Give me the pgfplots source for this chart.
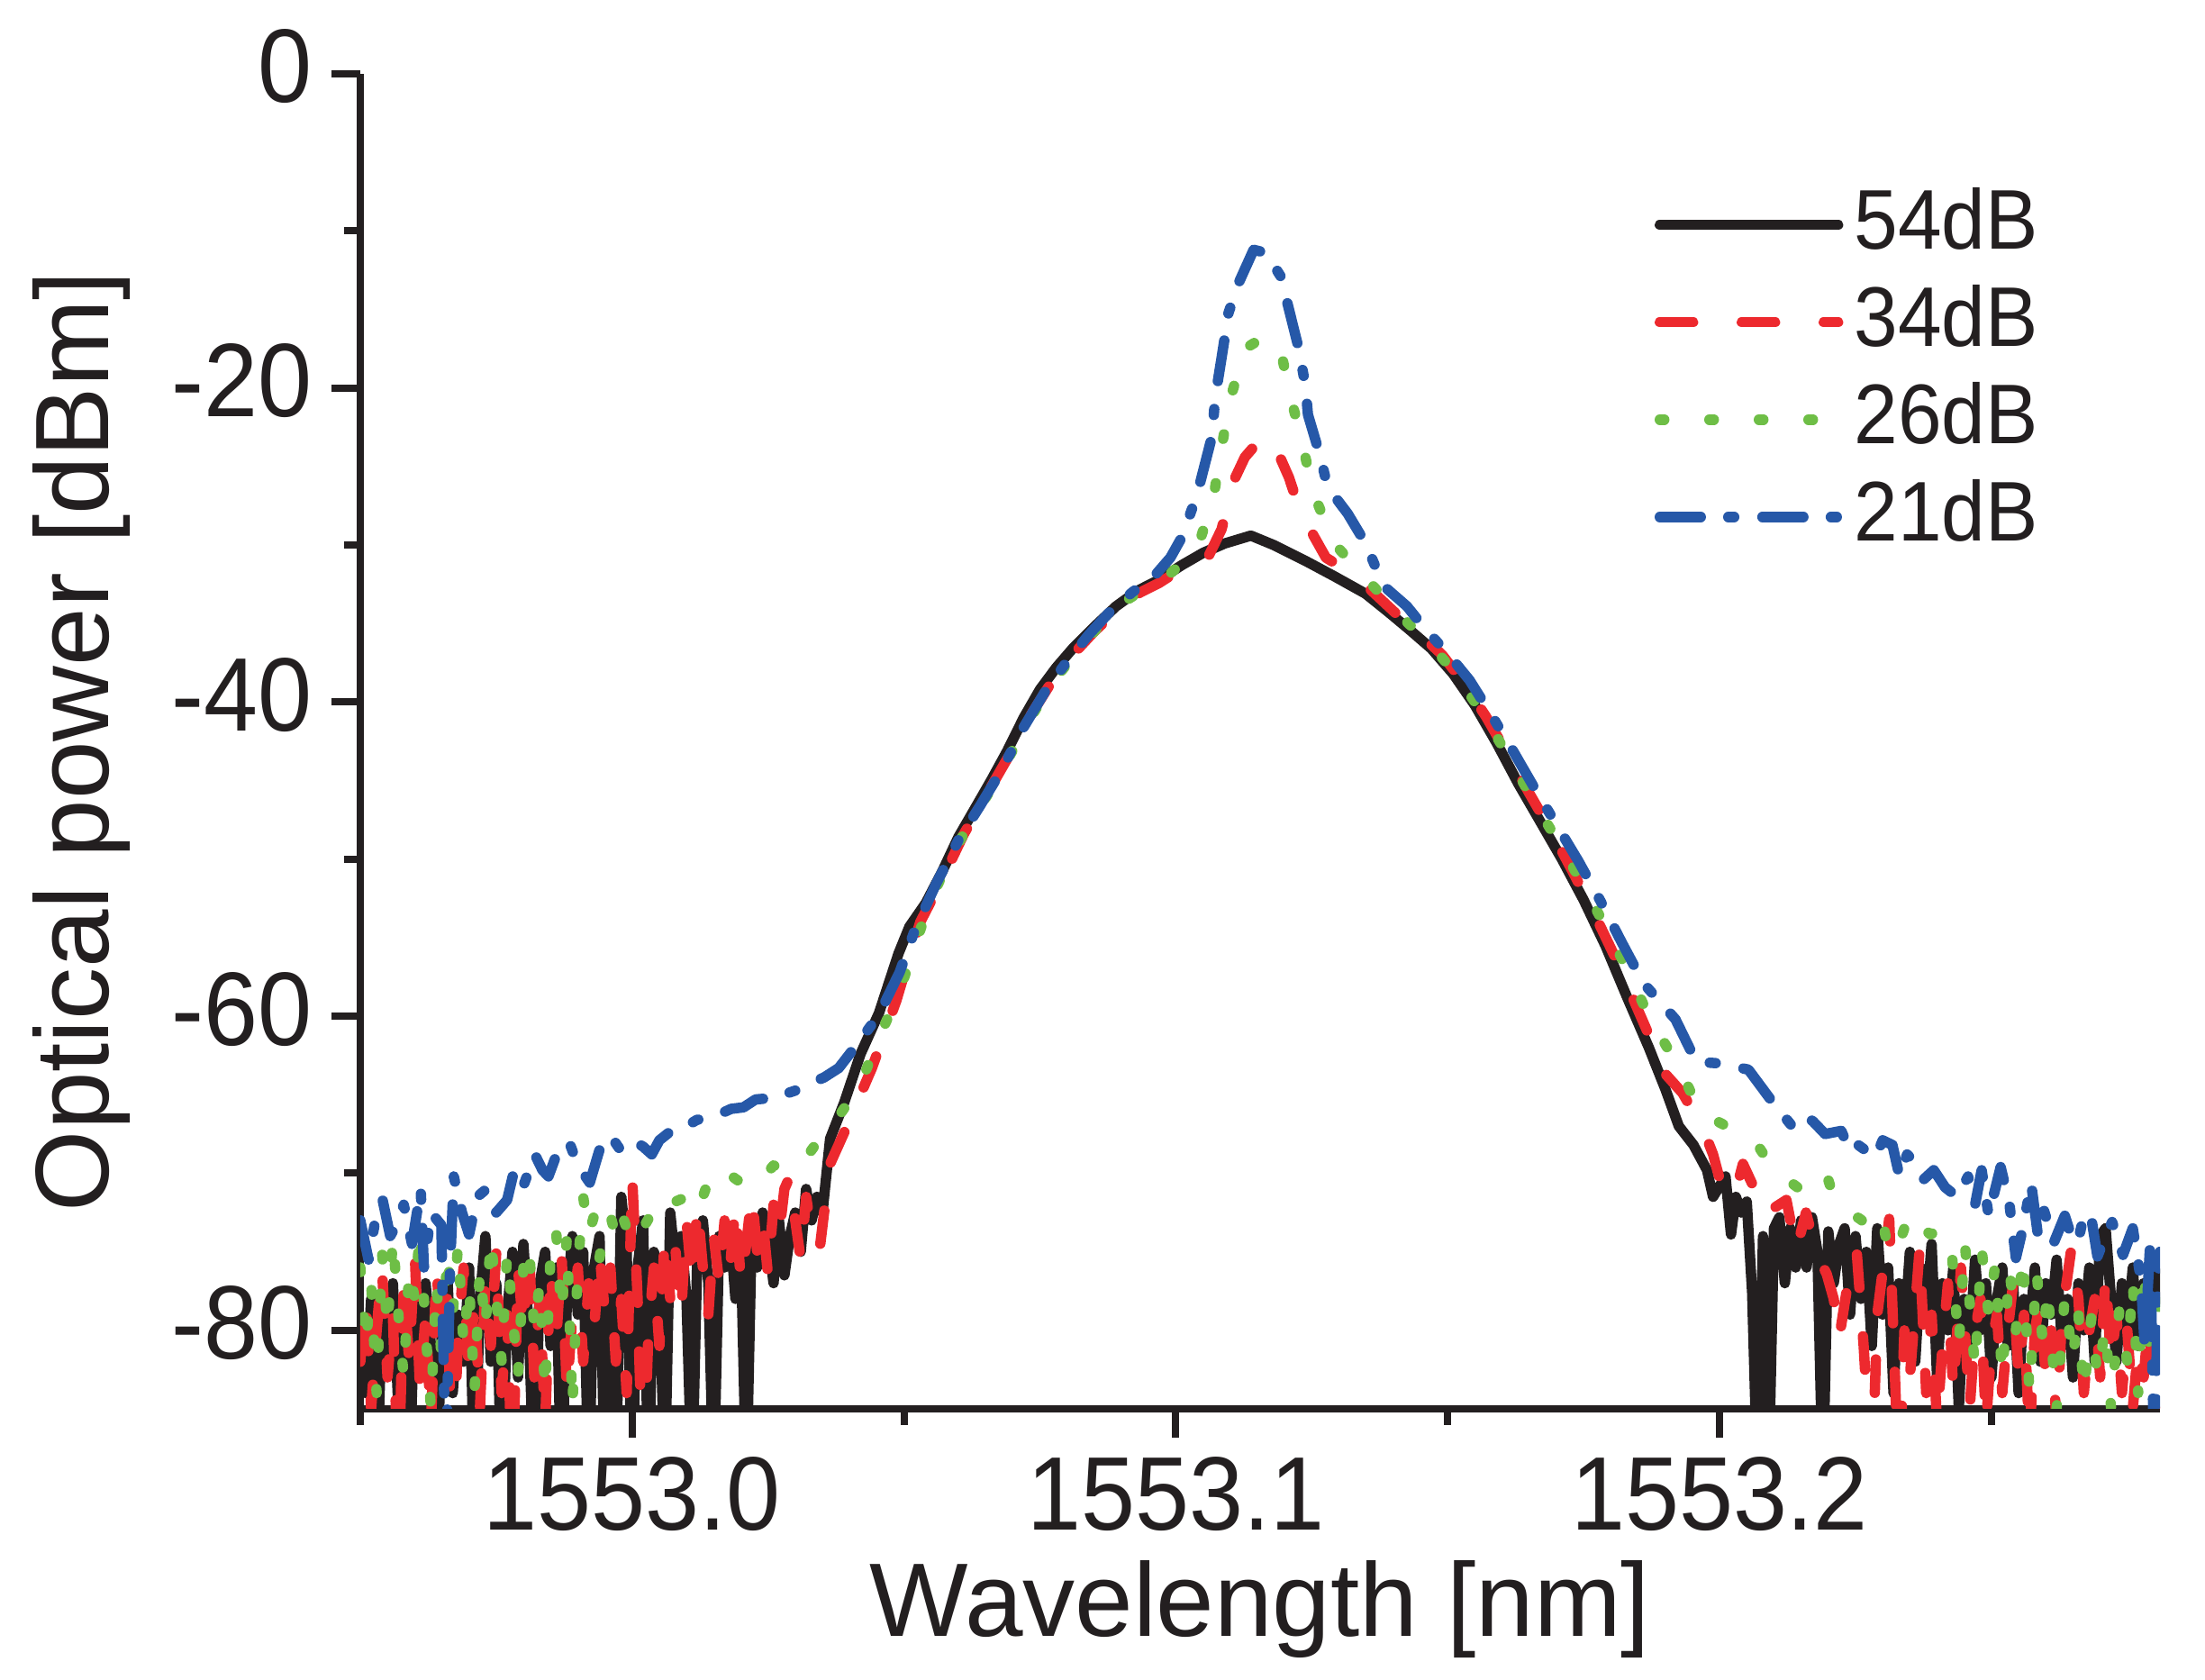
\documentclass[border=0pt]{standalone}
\usepackage{pgfplots}
\pgfplotsset{compat=1.18}
\usepackage{fontspec}
\setmainfont{Liberation Sans}
\newfontfamily\narrowfont{Liberation Sans}[FakeStretch=0.93]
\definecolor{cblack}{RGB}{35,31,32}
\definecolor{cred}{RGB}{237,41,46}
\definecolor{cgreen}{RGB}{110,190,70}
\definecolor{cblue}{RGB}{38,88,168}
\begin{document}
\begin{tikzpicture}
\begin{axis}[
  name=ax,
  scale only axis, width=199.8pt, height=148.2pt,
  xmin=1552.95, xmax=1553.281, ymin=-85, ymax=0,
  axis lines=left, axis line style={-, line width=0.8pt, cblack},
  tick align=outside, major tick length=3.2pt, minor tick length=1.8pt,
  every tick/.style={line width=0.8pt, cblack},
  xtick={1553.0,1553.1,1553.2}, xticklabels={1553.0,1553.1,1553.2},
  minor xtick={1552.95,1553.05,1553.15,1553.25},
  ytick={-80,-60,-40,-20,0}, yticklabels={-80,-60,-40,-20,0},
  minor ytick={-70,-50,-30,-10},
  tick label style={font=\narrowfont\fontsize{11.6}{13}\selectfont, text=cblack},
  xticklabel style={anchor=north, inner sep=0pt, yshift=-2.0pt},
  yticklabel style={anchor=east, inner sep=0pt, xshift=-2.0pt, yshift=0.8pt},
  xlabel={Wavelength [nm]}, ylabel={Optical power [dBm]},
  label style={font=\fontsize{11.6}{13}\selectfont, text=cblack, inner sep=0pt},
  xlabel style={at={(axis description cs:0.5,-0.1707)}, anchor=base},
  ylabel style={at={(axis description cs:-0.1401,0.5)}, anchor=base},
  legend style={draw=none, fill=none, at={(axis description cs:0.7192,0.9150)}, anchor=north west,
    inner sep=0pt, outer sep=0pt, row sep=2.5pt, column sep=1.2pt,
    font=\narrowfont\fontsize{9.4}{11}\selectfont, text=cblack, nodes={inner sep=0pt}},
  legend cell align=left,
  legend image code/.code={\draw[#1, line cap=round] (0.6pt,0pt) -- (20.4pt,0pt);},
  every axis plot/.append style={line width=1.15pt, line join=round, line cap=round},
]
% 54 dB
\addplot[cblack, solid] coordinates {
(1552.950,-80)(1552.951,-84)(1552.952,-78)(1552.953,-90)(1552.954,-79)(1552.955,-82)(1552.956,-77)(1552.957,-85)(1552.958,-79)(1552.959,-90)
(1552.960,-78)(1552.961,-83)(1552.962,-77)(1552.963,-81)(1552.964,-90)(1552.965,-80)(1552.966,-76.5)(1552.967,-84)(1552.968,-79)(1552.969,-82)
(1552.970,-76)(1552.971,-90)(1552.972,-78)(1552.973,-74)(1552.974,-82)(1552.975,-77)(1552.976,-90)(1552.977,-79)(1552.978,-75)(1552.979,-83)
(1552.980,-74.5)(1552.981,-80)(1552.982,-90)(1552.983,-77)(1552.984,-75)(1552.985,-81)(1552.986,-76)(1552.987,-90)(1552.988,-78)(1552.989,-74)
(1552.990,-79)(1552.991,-75)(1552.992,-90)(1552.993,-76)(1552.994,-74)(1552.995,-90)(1552.996,-77)(1552.997,-90)(1552.998,-71.5)(1552.999,-75)
(1553.000,-90)(1553.001,-76)(1553.002,-73)(1553.003,-90)(1553.004,-75)(1553.005,-77)(1553.006,-90)(1553.007,-72.5)(1553.008,-76)(1553.009,-74)
(1553.010,-78)(1553.011,-90)(1553.012,-75)(1553.013,-73)(1553.014,-77)(1553.015,-90)(1553.016,-74)(1553.017,-76)(1553.018,-73.5)(1553.019,-78)
(1553.020,-75)(1553.021,-90)(1553.022,-73.5)(1553.023,-76)(1553.024,-72.5)(1553.025,-74)(1553.026,-77)(1553.027,-73)(1553.028,-76.5)(1553.029,-74)
(1553.030,-72.5)(1553.031,-75)(1553.032,-71)(1553.033,-73)(1553.034,-71.5)(1553.035,-72.5)(1553.0364,-67.8)(1553.039,-65.5)(1553.042,-62.4)(1553.0454,-59.8)
(1553.049,-56)(1553.051,-54.3)(1553.054,-52.8)(1553.057,-50.8)(1553.060,-48.6)(1553.063,-46.8)(1553.066,-45.0)(1553.069,-43.1)(1553.072,-41.0)(1553.075,-39.2)
(1553.078,-37.8)(1553.081,-36.6)(1553.085,-35.2)(1553.089,-33.9)(1553.093,-32.9)(1553.097,-32.2)(1553.101,-31.3)(1553.105,-30.5)(1553.109,-29.9)(1553.1138,-29.4)
(1553.118,-30.0)(1553.1238,-31.0)(1553.1292,-32.0)(1553.1349,-33.1)(1553.1392,-34.3)(1553.143,-35.4)(1553.147,-36.6)(1553.151,-38.2)(1553.155,-40.2)(1553.159,-42.6)
(1553.163,-45.2)(1553.167,-47.6)(1553.171,-50.0)(1553.175,-52.6)(1553.179,-55.5)(1553.183,-58.8)(1553.187,-62.0)(1553.1901,-64.7)(1553.1925,-67)(1553.1952,-68.2)
(1553.1977,-69.8)(1553.1988,-71.5)(1553.2011,-70.2)(1553.2021,-73.9)(1553.203,-71.5)(1553.204,-72.5)(1553.205,-71.8)(1553.206,-77.6)(1553.207,-90)(1553.208,-74)
(1553.209,-90)(1553.210,-73.5)(1553.211,-72.8)(1553.212,-77)(1553.213,-73.5)(1553.214,-76)(1553.215,-73)(1553.216,-76)(1553.217,-72.8)(1553.218,-75)
(1553.219,-90)(1553.220,-73.7)(1553.221,-77)(1553.222,-74.5)(1553.223,-73.5)(1553.224,-79)(1553.225,-74)(1553.226,-78)(1553.227,-75)(1553.228,-81)
(1553.229,-73.5)(1553.230,-79)(1553.231,-76)(1553.232,-84)(1553.233,-77)(1553.234,-80)(1553.235,-75)(1553.236,-82)(1553.237,-76)(1553.238,-79)
(1553.239,-74.5)(1553.240,-83)(1553.241,-77)(1553.242,-80)(1553.243,-76)(1553.244,-85)(1553.245,-78)(1553.246,-81)(1553.247,-75.5)(1553.248,-80)
(1553.249,-77)(1553.250,-83)(1553.251,-78)(1553.252,-76)(1553.253,-81)(1553.254,-77)(1553.255,-84)(1553.256,-78)(1553.257,-80)(1553.258,-76)
(1553.259,-82)(1553.260,-77)(1553.261,-79)(1553.262,-75.5)(1553.263,-81)(1553.264,-78)(1553.265,-83)(1553.266,-77)(1553.267,-80)(1553.268,-76)
(1553.269,-82)(1553.270,-74)(1553.271,-73.5)(1553.272,-78)(1553.273,-82)(1553.274,-77)(1553.275,-80)(1553.276,-76)(1553.277,-81)(1553.278,-77)
(1553.279,-79)(1553.280,-76)(1553.281,-78)
};
\addlegendentry{54dB}
% 34 dB
\addplot[cred, dash pattern=on 3.7pt off 5.4pt] coordinates {
(1552.950,-82)(1552.951,-78)(1552.952,-85)(1552.953,-80)(1552.954,-76)(1552.955,-83)(1552.956,-79)(1552.957,-90)(1552.958,-77)(1552.959,-82)
(1552.960,-75)(1552.961,-84)(1552.962,-79)(1552.963,-86)(1552.964,-76)(1552.965,-81)(1552.966,-78)(1552.967,-90)(1552.968,-80)(1552.969,-76)
(1552.970,-83)(1552.971,-78)(1552.972,-85)(1552.973,-77)(1552.974,-81)(1552.975,-75)(1552.976,-84)(1552.977,-79)(1552.978,-90)(1552.979,-76)
(1552.980,-80)(1552.981,-74.5)(1552.982,-83)(1552.983,-78)(1552.984,-86)(1552.985,-76)(1552.986,-81)(1552.987,-75)(1552.988,-84)(1552.989,-79)
(1552.990,-76)(1552.991,-82)(1552.992,-77)(1552.993,-80)(1552.994,-75)(1552.995,-79)(1552.996,-76)(1552.997,-82)(1552.998,-78)(1552.999,-84)
(1553.000,-70.2)(1553.001,-78)(1553.002,-90)(1553.003,-80)(1553.004,-76)(1553.005,-81)(1553.006,-74)(1553.007,-78)(1553.008,-75)(1553.009,-79)
(1553.010,-73)(1553.011,-77)(1553.012,-72)(1553.013,-76)(1553.014,-79)(1553.015,-74)(1553.016,-77)(1553.017,-73)(1553.018,-76)(1553.019,-72)
(1553.020,-77)(1553.021,-74.5)(1553.022,-71.3)(1553.023,-75)(1553.024,-73)(1553.025,-76.5)(1553.026,-72)(1553.027,-74)(1553.028,-71)(1553.029,-70.2)
(1553.030,-73)(1553.031,-75.5)(1553.032,-71.5)(1553.033,-73.8)(1553.0345,-74.8)(1553.0355,-71.9)(1553.0364,-69.4)(1553.039,-67.4)(1553.0441,-63.3)(1553.0486,-59)
(1553.0504,-56.9)(1553.053,-54)(1553.057,-51.3)(1553.061,-48.4)(1553.065,-46.0)(1553.069,-43.6)(1553.073,-41.0)(1553.077,-38.8)(1553.081,-37.0)(1553.085,-35.5)
(1553.089,-34.2)(1553.093,-33.1)(1553.097,-32.4)(1553.1006,-31.6)(1553.1056,-31.0)(1553.1084,-29.0)(1553.1108,-25.8)(1553.1127,-24.4)(1553.1147,-23.6)(1553.1165,-23.0)
(1553.1180,-23.5)(1553.1208,-25.7)(1553.1229,-27.9)(1553.1276,-30.8)(1553.1332,-32.0)(1553.1403,-34.3)(1553.145,-35.7)(1553.149,-37.0)(1553.153,-38.8)(1553.157,-40.9)
(1553.161,-43.3)(1553.165,-45.8)(1553.169,-48.2)(1553.173,-50.8)(1553.177,-53.5)(1553.181,-56.4)(1553.185,-59.6)(1553.188,-62.0)(1553.1901,-63.7)(1553.1932,-64.9)
(1553.197,-67.2)(1553.1988,-68.8)(1553.2002,-70.6)(1553.2027,-71.5)(1553.2043,-69.4)(1553.2071,-71.5)(1553.2085,-72.7)(1553.2096,-72.3)(1553.2123,-71.7)(1553.2141,-74.9)
(1553.2159,-72.5)(1553.2179,-75.2)(1553.2197,-76.4)(1553.221,-78)(1553.222,-80.5)(1553.2235,-77.2)(1553.2252,-74.9)(1553.2265,-81)(1553.228,-90)(1553.229,-79)
(1553.2312,-72.9)(1553.233,-90)(1553.234,-80)(1553.235,-83)(1553.2368,-74.8)(1553.238,-84)(1553.239,-79)(1553.240,-86)(1553.241,-81)(1553.242,-77)
(1553.243,-84)(1553.2444,-76)(1553.246,-85)(1553.247,-80)(1553.248,-78)(1553.249,-86)(1553.250,-81)(1553.251,-79)(1553.252,-84)(1553.253,-80)
(1553.254,-77)(1553.255,-83)(1553.256,-79)(1553.257,-87)(1553.258,-80)(1553.259,-78)(1553.260,-83)(1553.261,-80)(1553.262,-86)(1553.263,-79)
(1553.2647,-74.8)(1553.266,-78)(1553.267,-84)(1553.268,-80)(1553.269,-78)(1553.270,-83)(1553.271,-76.4)(1553.272,-82)(1553.273,-79)(1553.274,-84)
(1553.275,-80)(1553.276,-85)(1553.277,-81)(1553.278,-83)(1553.279,-79)(1553.280,-86)(1553.281,-82)
};
\addlegendentry{34dB}
% 26 dB
\addplot[cgreen, dash pattern=on 0.5pt off 5pt] coordinates {
(1552.950,-76)(1552.951,-81)(1552.952,-77)(1552.953,-84)(1552.954,-75)(1552.955,-80)(1552.956,-74)(1552.957,-79)(1552.958,-83)(1552.959,-76)
(1552.960,-78)(1552.961,-73.5)(1552.962,-80)(1552.963,-85)(1552.964,-77)(1552.965,-82)(1552.966,-75)(1552.967,-79)(1552.968,-74.5)(1552.969,-81)
(1552.970,-77)(1552.971,-84)(1552.972,-76)(1552.973,-80)(1552.974,-74)(1552.975,-78)(1552.976,-82)(1552.977,-75)(1552.978,-79)(1552.979,-83)
(1552.980,-76)(1552.981,-74.5)(1552.982,-80)(1552.983,-77)(1552.984,-84)(1552.985,-75)(1552.986,-73.5)(1552.987,-79)(1552.988,-74)(1552.989,-85)
(1552.990,-76)(1552.991,-71.5)(1552.992,-73.9)(1552.993,-72.7)(1552.994,-75.4)(1552.995,-73)(1552.996,-72.7)(1552.997,-74)(1552.998,-72.5)(1552.999,-73.5)
(1553.000,-72.5)(1553.002,-73.5)(1553.004,-72.3)(1553.006,-72.8)(1553.008,-71.8)(1553.010,-71.5)(1553.012,-72.5)(1553.014,-70.5)(1553.016,-71)(1553.018,-70.1)
(1553.020,-70.6)(1553.022,-69.9)(1553.024,-70.3)(1553.026,-69.5)(1553.028,-69.8)(1553.030,-69.2)(1553.032,-69)(1553.0345,-67.8)(1553.0373,-66.7)(1553.0418,-64.5)
(1553.0456,-61.2)(1553.049,-58.6)(1553.052,-55.5)(1553.055,-52.5)(1553.059,-49.6)(1553.063,-47.2)(1553.067,-45.0)(1553.071,-42.4)(1553.075,-40.0)(1553.079,-38.0)
(1553.083,-36.3)(1553.087,-34.7)(1553.091,-33.5)(1553.095,-32.6)(1553.099,-31.8)(1553.1039,-30.3)(1553.1069,-27.0)(1553.1084,-23.8)(1553.1100,-20.7)(1553.1127,-17.5)
(1553.1160,-16.8)(1553.1191,-17.3)(1553.1210,-20.4)(1553.1233,-23.6)(1553.1253,-26.7)(1553.1291,-29.9)(1553.1357,-32.4)(1553.1425,-34.9)(1553.147,-36.4)(1553.151,-38.0)
(1553.155,-40.0)(1553.159,-42.2)(1553.163,-44.6)(1553.167,-47.0)(1553.171,-49.3)(1553.175,-51.7)(1553.179,-54.3)(1553.183,-57.0)(1553.187,-60.0)(1553.1929,-63.5)
(1553.1964,-66.1)(1553.2018,-67.1)(1553.2068,-68.1)(1553.2096,-69.6)(1553.2128,-70.5)(1553.2159,-71.3)(1553.2197,-70.1)(1553.221,-71.5)(1553.2229,-72.3)(1553.2258,-72.9)
(1553.228,-73.5)(1553.2298,-72.7)(1553.2312,-75.2)(1553.2331,-74.4)(1553.235,-72.5)(1553.2368,-73.3)(1553.2388,-73.9)(1553.2406,-73.5)(1553.2426,-74.5)(1553.244,-81)
(1553.2451,-74.4)(1553.247,-82.5)(1553.2482,-74.8)(1553.2495,-79)(1553.2507,-75.8)(1553.252,-83)(1553.2533,-76)(1553.2545,-80)(1553.2558,-75.2)(1553.257,-84)
(1553.2583,-76.2)(1553.2595,-81)(1553.2603,-77.2)(1553.262,-85)(1553.2635,-77.8)(1553.265,-82)(1553.2659,-78.4)(1553.267,-84)(1553.2684,-79.1)(1553.2695,-83)
(1553.271,-79.7)(1553.272,-85)(1553.2735,-78.8)(1553.275,-82)(1553.276,-76.8)(1553.277,-84)(1553.278,-76)(1553.279,-81)(1553.280,-80.1)(1553.281,-78)
};
\addlegendentry{26dB}
% 21 dB
\addplot[cblue, dash pattern=on 4.55pt off 3.05pt on 0.66pt off 3.13pt] coordinates {
(1552.950,-73)(1552.9515,-75.5)(1552.953,-72.5)(1552.9541,-71.7)(1552.9555,-74)(1552.9566,-73.3)(1552.958,-72)(1552.9595,-74.5)(1552.9611,-71.0)(1552.9617,-76)
(1552.9630,-72.5)(1552.9649,-73.3)(1552.9657,-90)(1552.9665,-76)(1552.9672,-70.2)(1552.9687,-72.5)(1552.970,-73.9)(1552.9715,-71.5)(1552.9732,-71.0)(1552.975,-72.5)
(1552.977,-71.7)(1552.9783,-69.8)(1552.980,-70.8)(1552.9821,-68.8)(1552.9835,-69.8)(1552.9846,-70.2)(1552.986,-68.9)(1552.9884,-68)(1552.990,-69.5)(1552.9922,-70.6)
(1552.994,-68.5)(1552.996,-67.6)(1552.998,-68.6)(1553.0005,-68)(1553.002,-68.3)(1553.0036,-68.8)(1553.005,-67.9)(1553.0068,-67.4)(1553.009,-67.2)(1553.0119,-66.6)
(1553.015,-66.4)(1553.0182,-65.9)(1553.0205,-65.8)(1553.0227,-65.3)(1553.026,-65.2)(1553.0303,-64.7)(1553.0326,-64.3)(1553.0353,-63.9)(1553.038,-63.3)(1553.0418,-61.6)
(1553.0454,-59.9)(1553.0492,-57.2)(1553.052,-54.5)(1553.056,-51.5)(1553.060,-48.8)(1553.064,-46.6)(1553.068,-44.3)(1553.072,-41.6)(1553.076,-39.3)(1553.080,-37.4)
(1553.084,-35.7)(1553.088,-34.2)(1553.092,-33.0)(1553.096,-32.0)(1553.0990,-30.8)(1553.1011,-29.5)(1553.1039,-26.8)(1553.1067,-23.0)(1553.1072,-20.7)(1553.1084,-18.1)
(1553.1097,-15.2)(1553.1117,-13.2)(1553.1143,-11.2)(1553.1166,-11.4)(1553.1193,-12.9)(1553.1208,-15.0)(1553.1226,-17.5)(1553.1238,-19.8)(1553.1243,-21.7)(1553.1266,-24.4)
(1553.1279,-26.3)(1553.1316,-28.0)(1553.1349,-29.9)(1553.1382,-32.6)(1553.1425,-33.9)(1553.146,-35.4)(1553.150,-36.9)(1553.154,-38.6)(1553.158,-40.8)(1553.162,-43.1)
(1553.166,-45.5)(1553.170,-47.8)(1553.174,-50.1)(1553.178,-52.6)(1553.182,-55.3)(1553.186,-57.9)(1553.1919,-60.2)(1553.1957,-62.9)(1553.1998,-63.0)(1553.2053,-63.4)
(1553.2096,-65.4)(1553.2131,-66.9)(1553.2150,-66.2)(1553.2172,-66.7)(1553.2194,-67.5)(1553.2224,-67.3)(1553.2240,-68.6)(1553.2255,-68.2)(1553.2287,-69.0)(1553.2300,-67.9)
(1553.2318,-68.2)(1553.2331,-70.2)(1553.2345,-68.8)(1553.2356,-69.2)(1553.2375,-70.4)(1553.2394,-69.8)(1553.2415,-70.9)(1553.2437,-71.5)(1553.2457,-70.2)(1553.2470,-72.0)
(1553.2482,-69.8)(1553.2495,-72.7)(1553.2517,-69.6)(1553.2533,-71.9)(1553.2545,-75.4)(1553.2558,-73.5)(1553.2573,-70.6)(1553.2585,-73.8)(1553.2596,-72.3)(1553.2615,-74.4)
(1553.2635,-72.7)(1553.2647,-74.0)(1553.2659,-74.4)(1553.2671,-72.5)(1553.2684,-72.9)(1553.2695,-75.3)(1553.2704,-74.5)(1553.2722,-73.1)(1553.2742,-75.2)(1553.2760,-73.5)
(1553.2775,-76.8)(1553.2782,-81)(1553.2792,-74.4)(1553.2800,-90)(1553.2806,-77)(1553.281,-75)
};
\addlegendentry{21dB}
\end{axis}
\pgfresetboundingbox
\path[use as bounding box] ([xshift=-40pt,yshift=-30pt]ax.south west) rectangle ([xshift=5pt,yshift=8.2pt]ax.north east);
\end{tikzpicture}
\end{document}
